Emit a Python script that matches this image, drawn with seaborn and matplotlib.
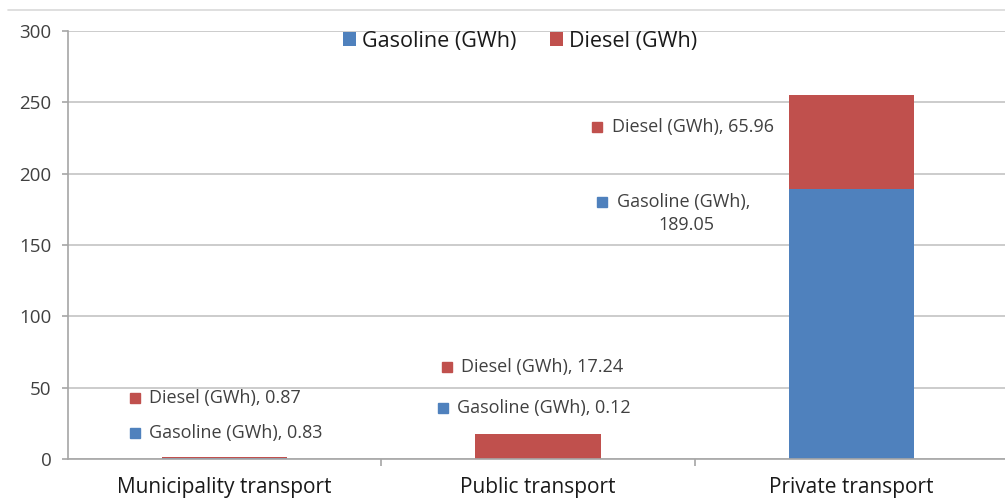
import matplotlib
matplotlib.use("Agg")
import matplotlib.pyplot as plt
import seaborn as sns
import pandas as pd
from matplotlib.patches import Patch
from matplotlib.lines import Line2D

# ---- data ----
categories = ["Municipality transport", "Public transport", "Private transport"]
series = ["Gasoline (GWh)", "Diesel (GWh)"]
gasoline = [0.83, 0.12, 189.05]
diesel = [0.87, 17.24, 65.96]
yticks = [0, 50, 100, 150, 200, 250, 300]

# ---- style ----
sns.set_theme(style="white")
plt.rcParams['font.family'] = ['Open Sans', 'DejaVu Sans']
C_GAS = "#4F81BD"
C_DIE = "#C0504D"
TXT = "#404040"
GRID = "#C8C8C8"
LBL = 13

W, H = 1005, 500
fig = plt.figure(figsize=(W / 100, H / 100), dpi=100)
ax = fig.add_axes([68 / W, 41 / H, 940 / W, 428 / H])

df = pd.DataFrame({"category": categories, "gasoline": gasoline, "diesel": diesel})
df["total"] = df["gasoline"] + df["diesel"]

sns.barplot(data=df, x="category", y="total", order=categories, color=C_DIE,
            width=0.4, saturation=1, ax=ax, edgecolor="none", linewidth=0)
sns.barplot(data=df, x="category", y="gasoline", order=categories, color=C_GAS,
            width=0.4, saturation=1, ax=ax, edgecolor="none", linewidth=0)

ax.set_xlim(-0.5, 2.5)
ax.set_ylim(0, 300)
ax.set_yticks(yticks)
ax.set_xlabel("")
ax.set_ylabel("")
ax.yaxis.grid(True, color=GRID, linewidth=1.3)
ax.xaxis.grid(False)
ax.set_axisbelow(True)
for s in ["top", "right"]:
    ax.spines[s].set_visible(False)
for s in ["left", "bottom"]:
    ax.spines[s].set_color("#A6A6A6")
    ax.spines[s].set_linewidth(1.2)

ax.tick_params(axis="y", which="major", left=True, length=4, width=1.2,
               color="#A6A6A6", labelsize=13.5, labelcolor=TXT, pad=8)
ax.tick_params(axis="x", which="major", bottom=False, labelsize=15,
               labelcolor="#1a1a1a", pad=7)
ax.set_xticks([0.5, 1.5, 2.5], minor=True)
ax.tick_params(axis="x", which="minor", bottom=True, length=5, width=1.2,
               color="#A6A6A6")

# ---- data labels (layout positions in data coords) ----
def px_x(px):
    return (px - 68) / 313.3 - 0.5

def px_y(py):
    return (459 - py) / 1.4267

def label(sq_px, text_px, y_px, text, color):
    ax.plot([px_x(sq_px)], [px_y(y_px)], marker="s", markersize=7,
            color=color, linestyle="none", clip_on=False)
    ax.text(px_x(text_px), px_y(y_px), text, ha="left", va="center",
            fontsize=LBL, color=TXT)

label(135, 149, 398, f"{series[1]}, {diesel[0]:.2f}", C_DIE)
label(135, 149, 433, f"{series[0]}, {gasoline[0]:.2f}", C_GAS)
label(447, 461, 367, f"{series[1]}, {diesel[1]:.2f}", C_DIE)
label(443, 457, 408, f"{series[0]}, {gasoline[1]:.2f}", C_GAS)
label(597, 612, 127, f"{series[1]}, {diesel[2]:.2f}", C_DIE)
label(602, 617, 202, f"{series[0]},", C_GAS)
ax.text(px_x(686), px_y(225), f"{gasoline[2]:.2f}", ha="center",
        va="center", fontsize=LBL, color=TXT)

# ---- legend ----
handles = [Patch(facecolor=C_GAS, edgecolor="none"),
           Patch(facecolor=C_DIE, edgecolor="none")]
fig.legend(handles, series, loc="center", bbox_to_anchor=(520 / W, 1 - 41 / H),
           ncol=2, frameon=False, fontsize=15.5, handlelength=0.6,
           handleheight=0.6, handletextpad=0.25, columnspacing=1.6,
           labelcolor="#1a1a1a")

# top border line
fig.add_artist(Line2D([8 / W, 1.0], [1 - 10 / H, 1 - 10 / H], color="#D9D9D9",
                      linewidth=1.2, transform=fig.transFigure))

fig.savefig("out.png", dpi=100)
